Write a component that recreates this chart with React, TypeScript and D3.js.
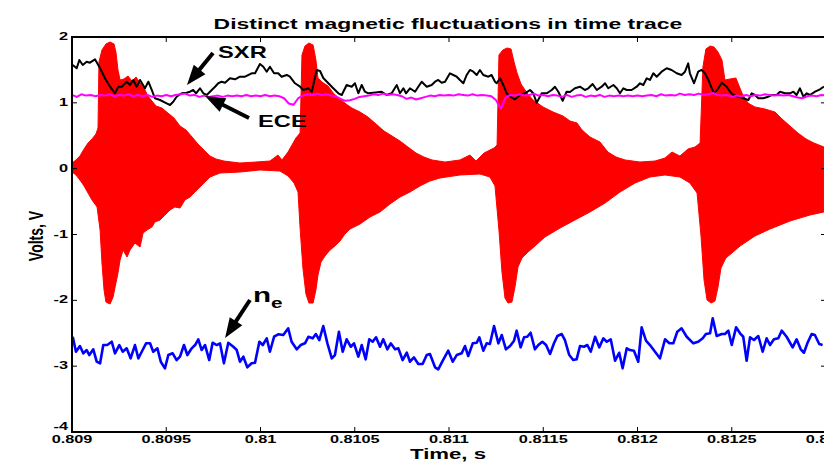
import React from "react";
import * as d3 from "d3";

// ---------- data ----------
const xTicks = [0.809, 0.8095, 0.81, 0.8105, 0.811, 0.8115, 0.812, 0.8125, 0.813];
const xTickLabels = ["0.809", "0.8095", "0.81", "0.8105", "0.811", "0.8115", "0.812", "0.8125", "0.813"];
const yTicks = [-4, -3, -2, -1, 0, 1, 2];
const yTickLabels = ["-4", "-3", "-2", "-1", "0", "1", "2"];

// magnetic fluctuation envelope (upper / lower), [time s, volts]
const magUpper: [number, number][] = [
  [0.809000, 0.086], [0.809021, 0.132], [0.809042, 0.192], [0.809064, 0.299], [0.809085, 0.390], [0.809106, 0.451],
  [0.809127, 0.526], [0.809138, 0.618], [0.809143, 1.620], [0.809159, 1.803], [0.809180, 1.894], [0.809202, 1.924],
  [0.809223, 1.894], [0.809233, 1.772], [0.809244, 1.499], [0.809255, 1.347], [0.809276, 1.362], [0.809297, 1.408],
  [0.809318, 1.332], [0.809340, 1.392], [0.809361, 1.301], [0.809382, 1.225], [0.809403, 1.104], [0.809424, 1.028],
  [0.809446, 0.952], [0.809477, 0.921], [0.809509, 0.845], [0.809541, 0.770], [0.809573, 0.648], [0.809605, 0.587],
  [0.809637, 0.481], [0.809668, 0.375], [0.809700, 0.283], [0.809732, 0.192], [0.809764, 0.147], [0.809806, 0.116],
  [0.809891, 0.086], [0.809976, 0.101], [0.810050, 0.116], [0.810093, 0.207], [0.810114, 0.132], [0.810146, 0.253],
  [0.810167, 0.359], [0.810188, 0.466], [0.810210, 0.542], [0.810220, 1.727], [0.810236, 1.863], [0.810257, 1.909],
  [0.810279, 1.878], [0.810294, 1.651], [0.810305, 1.377], [0.810326, 1.316], [0.810358, 1.256], [0.810390, 1.134],
  [0.810422, 1.058], [0.810454, 0.982], [0.810485, 0.921], [0.810528, 0.861], [0.810570, 0.785], [0.810613, 0.678],
  [0.810655, 0.572], [0.810698, 0.496], [0.810740, 0.420], [0.810782, 0.329], [0.810825, 0.238], [0.810867, 0.177],
  [0.810910, 0.132], [0.810979, 0.101], [0.811058, 0.132], [0.811111, 0.207], [0.811143, 0.116], [0.811186, 0.238],
  [0.811217, 0.283], [0.811239, 0.314], [0.811255, 0.359], [0.811265, 1.727], [0.811286, 1.803], [0.811308, 1.833],
  [0.811329, 1.818], [0.811345, 1.620], [0.811361, 1.453], [0.811382, 1.286], [0.811414, 1.149], [0.811446, 1.043],
  [0.811499, 0.937], [0.811552, 0.861], [0.811605, 0.800], [0.811642, 0.724], [0.811679, 0.694], [0.811706, 0.587],
  [0.811748, 0.481], [0.811801, 0.405], [0.811843, 0.253], [0.811886, 0.177], [0.811934, 0.132], [0.812013, 0.101],
  [0.812093, 0.116], [0.812146, 0.162], [0.812183, 0.253], [0.812225, 0.192], [0.812268, 0.299], [0.812305, 0.329],
  [0.812332, 0.390], [0.812347, 1.544], [0.812363, 1.818], [0.812385, 1.863], [0.812406, 1.848], [0.812427, 1.772],
  [0.812448, 1.651], [0.812464, 1.347], [0.812491, 1.362], [0.812522, 1.377], [0.812554, 1.149], [0.812586, 0.997],
  [0.812623, 0.937], [0.812676, 0.906], [0.812729, 0.861], [0.812767, 0.754], [0.812809, 0.648], [0.812851, 0.542],
  [0.812894, 0.451], [0.812936, 0.390], [0.812989, 0.329],
];
const magLower: [number, number][] = [
  [0.809000, -0.051], [0.809021, -0.096], [0.809042, -0.172], [0.809064, -0.263], [0.809085, -0.370], [0.809106, -0.476],
  [0.809133, -0.582], [0.809149, -0.932], [0.809159, -1.433], [0.809170, -1.843], [0.809180, -2.026], [0.809202, -2.056],
  [0.809218, -1.950], [0.809233, -1.737], [0.809244, -1.585], [0.809255, -1.388], [0.809271, -1.236], [0.809292, -1.342],
  [0.809308, -1.236], [0.809334, -1.129], [0.809361, -1.190], [0.809377, -0.977], [0.809398, -0.932], [0.809424, -0.886],
  [0.809440, -0.810], [0.809467, -0.780], [0.809493, -0.704], [0.809520, -0.628], [0.809546, -0.582], [0.809573, -0.598],
  [0.809599, -0.476], [0.809626, -0.431], [0.809653, -0.355], [0.809679, -0.279], [0.809706, -0.203], [0.809732, -0.127],
  [0.809785, -0.066], [0.809891, -0.051], [0.809997, -0.020], [0.810103, -0.036], [0.810146, -0.111], [0.810178, -0.218],
  [0.810199, -0.355], [0.810210, -0.902], [0.810225, -1.509], [0.810241, -1.904], [0.810257, -2.041], [0.810279, -2.041],
  [0.810294, -1.843], [0.810305, -1.615], [0.810321, -1.418], [0.810342, -1.327], [0.810369, -1.236], [0.810395, -1.175],
  [0.810422, -1.099], [0.810448, -0.993], [0.810475, -0.917], [0.810528, -0.841], [0.810581, -0.734], [0.810634, -0.658],
  [0.810687, -0.537], [0.810740, -0.431], [0.810793, -0.355], [0.810846, -0.263], [0.810899, -0.188], [0.810952, -0.142],
  [0.811058, -0.096], [0.811164, -0.081], [0.811217, -0.127], [0.811244, -0.263], [0.811265, -0.932], [0.811281, -1.570],
  [0.811297, -1.965], [0.811313, -2.041], [0.811334, -2.026], [0.811350, -1.798], [0.811366, -1.494], [0.811387, -1.357],
  [0.811419, -1.266], [0.811456, -1.175], [0.811509, -1.038], [0.811589, -0.902], [0.811668, -0.780], [0.811748, -0.658],
  [0.811828, -0.522], [0.811907, -0.355], [0.811987, -0.218], [0.812066, -0.127], [0.812146, -0.096], [0.812225, -0.127],
  [0.812278, -0.218], [0.812316, -0.370], [0.812337, -1.023], [0.812353, -1.691], [0.812369, -1.995], [0.812390, -2.041],
  [0.812411, -2.011], [0.812427, -1.798], [0.812443, -1.509], [0.812469, -1.357], [0.812501, -1.281], [0.812544, -1.175],
  [0.812623, -1.023], [0.812703, -0.917], [0.812809, -0.795], [0.812915, -0.704], [0.812989, -0.658],
];

// SXR (black)
const sxr: [number, number][] = [
  [0.809004, 1.575], [0.809025, 1.525], [0.809039, 1.651], [0.809057, 1.575], [0.809078, 1.625], [0.809095, 1.610],
  [0.809122, 1.661], [0.809149, 1.525], [0.809175, 1.373], [0.809202, 1.245], [0.809228, 1.145], [0.809246, 1.245],
  [0.809264, 1.245], [0.809290, 1.321], [0.809308, 1.271], [0.809325, 1.347], [0.809343, 1.245], [0.809361, 1.347],
  [0.809387, 1.221], [0.809405, 1.321], [0.809423, 1.195], [0.809440, 1.069], [0.809467, 1.043], [0.809502, 0.993],
  [0.809520, 0.967], [0.809537, 1.017], [0.809555, 1.093], [0.809582, 1.145], [0.809608, 1.154], [0.809626, 1.169],
  [0.809643, 1.195], [0.809658, 1.145], [0.809679, 1.221], [0.809697, 1.145], [0.809715, 1.119], [0.809732, 1.169],
  [0.809759, 1.245], [0.809776, 1.297], [0.809794, 1.321], [0.809812, 1.306], [0.809838, 1.373], [0.809865, 1.357],
  [0.809891, 1.397], [0.809918, 1.397], [0.809953, 1.449], [0.809971, 1.449], [0.809997, 1.590], [0.810015, 1.549],
  [0.810033, 1.473], [0.810050, 1.549], [0.810072, 1.449], [0.810094, 1.449], [0.810112, 1.397], [0.810139, 1.423],
  [0.810156, 1.397], [0.810183, 1.297], [0.810210, 1.245], [0.810227, 1.195], [0.810254, 1.221], [0.810272, 1.169],
  [0.810298, 1.499], [0.810316, 1.484], [0.810333, 1.377], [0.810360, 1.297], [0.810386, 1.221], [0.810413, 1.145],
  [0.810431, 1.119], [0.810457, 1.271], [0.810484, 1.245], [0.810501, 1.297], [0.810519, 1.145], [0.810537, 1.271],
  [0.810554, 1.169], [0.810572, 1.145], [0.810598, 1.154], [0.810643, 1.169], [0.810669, 1.119], [0.810696, 1.145],
  [0.810723, 1.271], [0.810740, 1.145], [0.810758, 1.221], [0.810772, 1.145], [0.810793, 1.221], [0.810820, 1.169],
  [0.810837, 1.245], [0.810855, 1.321], [0.810882, 1.245], [0.810908, 1.271], [0.810926, 1.321], [0.810943, 1.347],
  [0.810961, 1.306], [0.810979, 1.321], [0.811005, 1.449], [0.811023, 1.423], [0.811041, 1.397], [0.811058, 1.347],
  [0.811076, 1.297], [0.811094, 1.423], [0.811111, 1.499], [0.811129, 1.473], [0.811147, 1.423], [0.811164, 1.499],
  [0.811182, 1.423], [0.811209, 1.397], [0.811226, 1.423], [0.811244, 1.321], [0.811253, 1.297], [0.811271, 1.373],
  [0.811288, 1.271], [0.811306, 1.145], [0.811324, 1.093], [0.811350, 1.054], [0.811377, 1.119], [0.811403, 1.145],
  [0.811430, 1.195], [0.811447, 1.145], [0.811465, 1.002], [0.811492, 1.145], [0.811518, 1.145], [0.811545, 1.195],
  [0.811562, 1.245], [0.811580, 1.169], [0.811603, 1.032], [0.811624, 1.169], [0.811642, 1.165], [0.811668, 1.221],
  [0.811695, 1.245], [0.811721, 1.195], [0.811739, 1.221], [0.811762, 1.286], [0.811784, 1.195], [0.811810, 1.245],
  [0.811828, 1.297], [0.811845, 1.221], [0.811872, 1.271], [0.811890, 1.221], [0.811907, 1.145], [0.811925, 1.221],
  [0.811943, 1.195], [0.811969, 1.195], [0.811996, 1.245], [0.812013, 1.297], [0.812031, 1.271], [0.812049, 1.373],
  [0.812066, 1.347], [0.812084, 1.449], [0.812102, 1.397], [0.812128, 1.473], [0.812155, 1.525], [0.812181, 1.499],
  [0.812208, 1.449], [0.812234, 1.423], [0.812252, 1.473], [0.812269, 1.600], [0.812278, 1.449], [0.812300, 1.297],
  [0.812322, 1.473], [0.812340, 1.499], [0.812358, 1.449], [0.812376, 1.347], [0.812394, 1.221], [0.812406, 1.145],
  [0.812429, 1.221], [0.812447, 1.306], [0.812473, 1.245], [0.812491, 1.169], [0.812508, 1.119], [0.812535, 1.093],
  [0.812561, 1.069], [0.812588, 1.043], [0.812606, 1.145], [0.812623, 1.119], [0.812641, 1.069], [0.812667, 1.069],
  [0.812694, 1.093], [0.812712, 1.119], [0.812738, 1.119], [0.812756, 1.169], [0.812782, 1.145], [0.812809, 1.145],
  [0.812827, 1.169], [0.812844, 1.119], [0.812862, 1.221], [0.812880, 1.093], [0.812898, 1.145], [0.812915, 1.119],
  [0.812942, 1.169], [0.812968, 1.206], [0.812989, 1.245],
];

// ECE (magenta), sampled every 25 µs from 0.809 s
const eceStart = 0.809;
const eceStep = 0.000025;
const eceValues = [
  1.12, 1.09, 1.13, 1.11, 1.12, 1.10, 1.12, 1.11, 1.13, 1.10, 1.12, 1.11, 1.13, 1.10, 1.12, 1.10, 1.12, 1.09, 1.11, 1.10,
  1.12, 1.10, 1.12, 1.13, 1.14, 1.11, 1.12, 1.09, 1.11, 1.09, 1.10, 1.11, 1.09, 1.11, 1.10, 1.11, 1.10, 1.12, 1.10, 1.11,
  1.10, 1.12, 1.10, 1.11, 1.10, 1.07, 0.99, 0.97, 1.07, 1.11, 1.13, 1.12, 1.14, 1.12, 1.13, 1.11, 1.10, 1.06, 1.03, 1.04,
  1.06, 1.09, 1.10, 1.11, 1.13, 1.12, 1.14, 1.12, 1.13, 1.12, 1.10, 1.06, 1.08, 1.05, 1.07, 1.09, 1.11, 1.10, 1.12, 1.11,
  1.12, 1.11, 1.13, 1.12, 1.11, 1.13, 1.11, 1.12, 1.11, 1.10, 1.04, 0.91, 1.08, 1.12, 1.11, 1.13, 1.11, 1.12, 1.14, 1.11,
  1.12, 1.10, 1.12, 1.11, 1.09, 1.12, 1.09, 1.11, 1.12, 1.09, 1.11, 1.10, 1.12, 1.09, 1.11, 1.10, 1.11, 1.10, 1.11, 1.10,
  1.11, 1.10, 1.11, 1.12, 1.10, 1.13, 1.11, 1.12, 1.11, 1.14, 1.12, 1.13, 1.12, 1.14, 1.12, 1.13, 1.15, 1.12, 1.11, 1.12,
  1.09, 1.11, 1.10, 1.12, 1.10, 1.12, 1.11, 1.13, 1.12, 1.11, 1.12, 1.11, 1.12, 1.10, 1.08, 1.07, 1.10, 1.11, 1.10, 1.12,
  1.11,
];

// electron density (blue)
const ne: [number, number][] = [
  [0.809004, -2.553], [0.809021, -2.781], [0.809042, -2.694], [0.809060, -2.805], [0.809078, -2.755], [0.809092, -2.831],
  [0.809113, -2.744], [0.809131, -2.932], [0.809149, -2.957], [0.809166, -2.679], [0.809187, -2.679], [0.809211, -2.629],
  [0.809228, -2.805], [0.809251, -2.679], [0.809269, -2.781], [0.809290, -2.729], [0.809311, -2.881], [0.809334, -2.679],
  [0.809352, -2.881], [0.809370, -2.781], [0.809393, -2.653], [0.809414, -2.653], [0.809431, -2.781], [0.809453, -2.729],
  [0.809471, -2.932], [0.809493, -3.033], [0.809511, -2.831], [0.809534, -2.805], [0.809555, -2.907], [0.809573, -2.856],
  [0.809594, -2.679], [0.809612, -2.831], [0.809635, -2.729], [0.809653, -2.679], [0.809670, -2.592], [0.809688, -2.755],
  [0.809706, -2.679], [0.809728, -2.907], [0.809746, -2.644], [0.809768, -2.679], [0.809785, -2.653], [0.809806, -2.957],
  [0.809829, -2.644], [0.809856, -2.705], [0.809874, -2.755], [0.809891, -2.932], [0.809909, -2.856], [0.809930, -3.017],
  [0.809953, -2.957], [0.809971, -2.947], [0.809994, -2.629], [0.810012, -2.679], [0.810033, -2.577], [0.810050, -2.781],
  [0.810072, -2.553], [0.810094, -2.516], [0.810121, -2.527], [0.810147, -2.425], [0.810165, -2.629], [0.810192, -2.744],
  [0.810213, -2.679], [0.810236, -2.653], [0.810254, -2.553], [0.810277, -2.577], [0.810294, -2.512], [0.810312, -2.603],
  [0.810333, -2.390], [0.810355, -2.653], [0.810378, -2.881], [0.810395, -2.831], [0.810416, -2.477], [0.810436, -2.781],
  [0.810457, -2.592], [0.810479, -2.705], [0.810496, -2.653], [0.810519, -2.856], [0.810537, -2.679], [0.810558, -2.896],
  [0.810577, -2.592], [0.810595, -2.629], [0.810613, -2.562], [0.810634, -2.705], [0.810651, -2.592], [0.810673, -2.744],
  [0.810691, -2.653], [0.810714, -2.744], [0.810731, -2.729], [0.810754, -2.907], [0.810776, -2.796], [0.810793, -2.932],
  [0.810814, -2.866], [0.810837, -2.967], [0.810860, -2.967], [0.810882, -2.831], [0.810899, -2.815], [0.810926, -3.017],
  [0.810943, -3.048], [0.810967, -2.917], [0.810996, -2.765], [0.811020, -2.932], [0.811041, -2.831], [0.811067, -2.805],
  [0.811085, -2.694], [0.811102, -2.846], [0.811126, -2.653], [0.811147, -2.644], [0.811161, -2.562], [0.811182, -2.765],
  [0.811200, -2.653], [0.811217, -2.664], [0.811239, -2.390], [0.811262, -2.653], [0.811280, -2.527], [0.811302, -2.744],
  [0.811324, -2.694], [0.811345, -2.613], [0.811359, -2.461], [0.811380, -2.714], [0.811398, -2.562], [0.811415, -2.553],
  [0.811433, -2.492], [0.811456, -2.744], [0.811474, -2.679], [0.811495, -2.629], [0.811515, -2.679], [0.811536, -2.815],
  [0.811557, -2.653], [0.811575, -2.542], [0.811598, -2.512], [0.811615, -2.603], [0.811638, -2.831], [0.811659, -2.907],
  [0.811677, -2.896], [0.811695, -2.694], [0.811716, -2.705], [0.811734, -2.679], [0.811752, -2.781], [0.811775, -2.553],
  [0.811797, -2.714], [0.811819, -2.577], [0.811837, -2.629], [0.811858, -2.592], [0.811881, -2.917], [0.811903, -2.796],
  [0.811921, -3.033], [0.811943, -2.729], [0.811960, -2.755], [0.811981, -2.765], [0.812004, -2.932], [0.812022, -2.410],
  [0.812045, -2.613], [0.812066, -2.679], [0.812093, -2.781], [0.812119, -2.881], [0.812146, -2.592], [0.812169, -2.653],
  [0.812190, -2.653], [0.812211, -2.477], [0.812234, -2.425], [0.812261, -2.553], [0.812296, -2.653], [0.812322, -2.629],
  [0.812346, -2.577], [0.812363, -2.512], [0.812385, -2.501], [0.812399, -2.273], [0.812420, -2.542], [0.812447, -2.512],
  [0.812464, -2.512], [0.812482, -2.461], [0.812500, -2.679], [0.812523, -2.410], [0.812544, -2.501], [0.812561, -2.553],
  [0.812579, -2.917], [0.812597, -2.562], [0.812618, -2.603], [0.812641, -2.542], [0.812664, -2.781], [0.812685, -2.577],
  [0.812703, -2.679], [0.812724, -2.592], [0.812747, -2.577], [0.812765, -2.461], [0.812791, -2.553], [0.812823, -2.714],
  [0.812844, -2.592], [0.812866, -2.744], [0.812883, -2.796], [0.812901, -2.653], [0.812924, -2.512], [0.812941, -2.527],
  [0.812964, -2.664], [0.812982, -2.679],
];

// annotations in data units: [textT, textV, fromT, fromV, tipT, tipV]
const annSXR = [0.809775, 1.681, 0.809748, 1.757, 0.809610, 1.271];
const annECE = [0.809987, 0.633, 0.809939, 0.770, 0.809706, 1.104];
const annNe = [0.809960, -2.026, 0.809944, -1.995, 0.809812, -2.572];

// ---------- layout ----------
const W = 824;
const H = 465;
const L = 72, R = 826, T = 37, B = 432;
const SX = 1.48; // horizontal stretch of the source figure
const FONT = "'Liberation Sans', Arial, Helvetica, sans-serif";

function Arrow({ x1, y1, x2, y2, head = 20, half = 7.5, w = 4 }: any) {
  const dx = x2 - x1, dy = y2 - y1;
  const len = Math.hypot(dx, dy);
  const ux = dx / len, uy = dy / len;
  const bx = x2 - ux * head, by = y2 - uy * head;
  const px = -uy, py = ux;
  const pts = [[x2, y2], [bx + px * half, by + py * half], [bx - px * half, by - py * half]];
  return (
    <g>
      <line x1={x1} y1={y1} x2={bx + ux * 2} y2={by + uy * 2} stroke="#000" strokeWidth={w} />
      <polygon points={pts.map((p) => p.join(",")).join(" ")} fill="#000" />
    </g>
  );
}

export default function App() {
  const x = d3.scaleLinear().domain([0.809, 0.813]).range([L, R]);
  const y = d3.scaleLinear().domain([-4, 2]).range([B, T]);

  const line = d3.line<[number, number]>().x((d) => x(d[0])).y((d) => y(d[1]));
  const magPoly = line([...magUpper, ...magLower.slice().reverse()]) + "Z";
  const ece: [number, number][] = eceValues.map((v, i) => [eceStart + i * eceStep, v]);

  const hText = (cx: number, cy: number, s: string, size: number, anchor = "middle", key?: any) => (
    <text key={key} transform={`translate(${cx},${cy}) scale(${SX},1)`} textAnchor={anchor}
      fontFamily={FONT} fontWeight="bold" fontSize={size} fill="#000">{s}</text>
  );

  const ann = (a: number[], label: string) => (
    <g>
      <Arrow x1={x(a[2])} y1={y(a[3])} x2={x(a[4])} y2={y(a[5])} />
      {hText(x(a[0]), y(a[1]), label, 16, "start")}
    </g>
  );

  return (
    <div style={{ position: "absolute", left: 0, top: 0 }}>
      <svg width={W} height={H} style={{ display: "block", background: "#fff" }}>
        <defs>
          <clipPath id="plotclip">
            <rect x={L} y={T} width={R - L} height={B - T} />
          </clipPath>
        </defs>
        <rect x={0} y={0} width={W} height={H} fill="#fff" />
        <g clipPath="url(#plotclip)">
          <path d={magPoly} fill="#ff0000" stroke="#ff0000" strokeWidth={1} strokeLinejoin="miter" />
          <path d={line(ne) || ""} fill="none" stroke="#0000ff" strokeWidth={2.6} strokeLinejoin="round" />
          <path d={line(sxr) || ""} fill="none" stroke="#000" strokeWidth={2} strokeLinejoin="round" />
          <path d={line(ece) || ""} fill="none" stroke="#ff00ff" strokeWidth={2} strokeLinejoin="round" />
        </g>

        {/* axes box */}
        <rect x={L} y={T} width={R - L} height={B - T} fill="none" stroke="#000" strokeWidth={2} />
        {xTicks.map((t, i) => (
          <g key={"xt" + i}>
            <line x1={x(t)} x2={x(t)} y1={B} y2={B - 5} stroke="#000" strokeWidth={1} />
            <line x1={x(t)} x2={x(t)} y1={T} y2={T + 5} stroke="#000" strokeWidth={1} />
            {hText(x(t), B + 11, xTickLabels[i], 11)}
          </g>
        ))}
        {yTicks.map((t, i) => (
          <g key={"yt" + i}>
            <line x1={L} x2={L + 5} y1={y(t)} y2={y(t)} stroke="#000" strokeWidth={1} />
            <line x1={R} x2={R - 5} y1={y(t)} y2={y(t)} stroke="#000" strokeWidth={1} />
            {hText(L - 4, y(t) + (t === -4 ? -2 : 3), yTickLabels[i], 11, "end")}
          </g>
        ))}

        {/* title & labels */}
        {hText((L + R) / 2 - 1, 29, "Distinct magnetic fluctuations in time trace", 15.5)}
        {hText((L + R) / 2 - 1, 459, "Time, s", 15)}
        <text transform={`translate(43,236) scale(${SX},1) rotate(-90)`} textAnchor="middle"
          fontFamily={FONT} fontWeight="bold" fontSize={14} fill="#000">Volts, V</text>

        {/* annotations */}
        {ann(annSXR, "SXR")}
        {ann(annECE, "ECE")}
        <g>
          <Arrow x1={x(annNe[2])} y1={y(annNe[3])} x2={x(annNe[4])} y2={y(annNe[5])} />
          <text transform={`translate(${x(annNe[0])},${y(annNe[1])}) scale(${SX},1)`}
            fontFamily={FONT} fontWeight="bold" fontSize={20} fill="#000">
            n<tspan dy={6} fontSize={14}>e</tspan>
          </text>
        </g>
      </svg>
    </div>
  );
}
